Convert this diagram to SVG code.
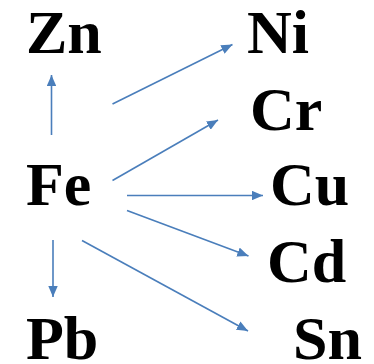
<svg xmlns="http://www.w3.org/2000/svg" width="374" height="364" viewBox="0 0 374 364">
<style>
text{font-family:"Liberation Serif","Times New Roman",serif;font-weight:bold;font-size:62px;fill:#000}
.c line{stroke:#4a7ebb;stroke-width:1.6;fill:none;marker-end:url(#ah)}
</style>
<defs>
<marker id="ah" markerWidth="7" markerHeight="6" refX="7" refY="3" orient="auto" markerUnits="strokeWidth">
<path d="M0,0 L7,3 L0,6 Z" fill="#4a7ebb"/>
</marker>
</defs>
<rect width="374" height="364" fill="#fff"/>
<g id="Zn"><text x="26" y="53">Zn</text></g>
<g id="Ni"><text x="247" y="53">Ni</text></g>
<g id="Cr"><text x="250" y="130">Cr</text></g>
<g id="Fe"><text x="26" y="205">Fe</text></g>
<g id="Cu"><text x="270" y="205">Cu</text></g>
<g id="Cd"><text x="267" y="282">Cd</text></g>
<g id="Pb"><text x="26" y="359">Pb</text></g>
<g id="Sn"><text x="293" y="359">Sn</text></g>
<g class="c">
<line x1="51.5" y1="135" x2="51.5" y2="75"/>
<line x1="112.5" y1="104" x2="232.5" y2="44.5"/>
<line x1="112.5" y1="180.5" x2="218" y2="120"/>
<line x1="127" y1="195.5" x2="263" y2="195.5"/>
<line x1="127" y1="210.5" x2="248.5" y2="256"/>
<line x1="82" y1="240.5" x2="248" y2="331"/>
<line x1="53" y1="240" x2="53" y2="297"/>
</g>
</svg>
